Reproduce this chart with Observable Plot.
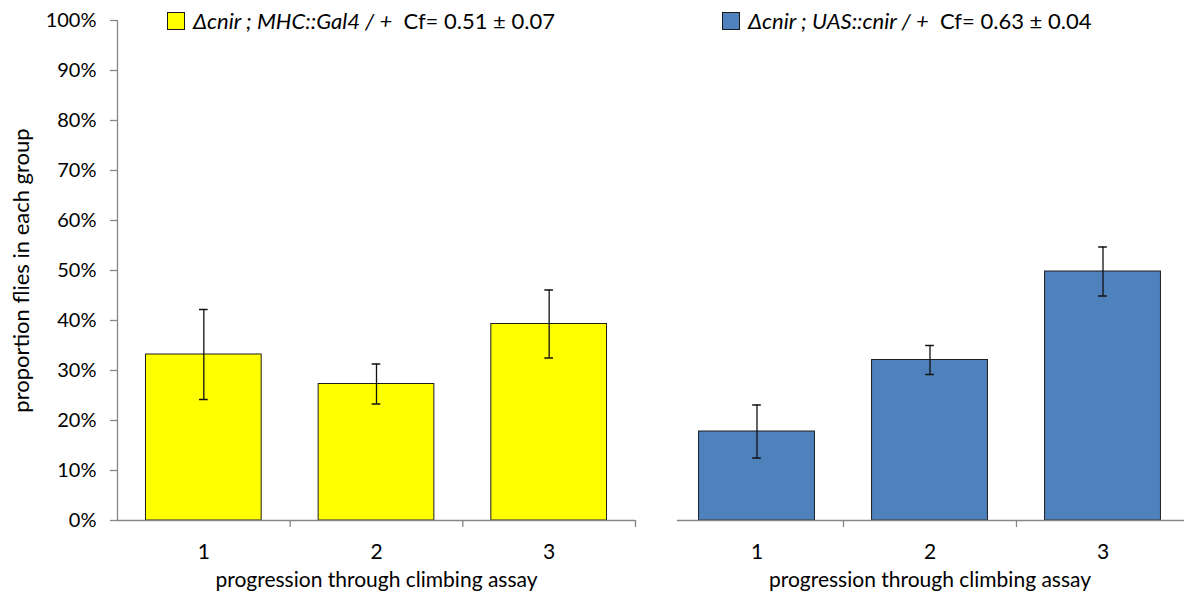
<!DOCTYPE html>
<html><head><meta charset="utf-8">
<script src="https://cdn.jsdelivr.net/npm/d3@7"></script>
<script src="https://cdn.jsdelivr.net/npm/@observablehq/plot@0.6"></script>
<style>
body{margin:0;width:1184px;height:596px;overflow:hidden;background:#fff;font-family:Lato, "Open Sans", sans-serif;}
#wrap{position:relative;width:1184px;height:596px;overflow:hidden;}
.panel{position:absolute;top:0;}
.legend{position:absolute;top:11px;font-size:22px;color:#000;display:flex;align-items:center;white-space:pre;line-height:20px;}
.sw{width:16px;height:16px;border:1.5px solid #1a1a1a;margin-right:8px;}
</style></head>
<body><div id="wrap"></div>
<script>
// ---- data ----
const categories = [1, 2, 3];
const leftValues = [33.2, 27.3, 39.3];
const leftErrors = [9.0, 4.0, 6.8];
const rightValues = [17.8, 32.1, 49.8];
const rightErrors = [5.3, 2.9, 4.9];
const yTicks = [0, 10, 20, 30, 40, 50, 60, 70, 80, 90, 100];
const boundaryTicks = [1.5, 2.5, 3.5];
const xLabel = "progression through climbing assay";
const yLabel = "proportion flies in each group";
const leftLegendItalic = "Δcnir ; MHC::Gal4 / +";
const leftLegendCf = "  Cf= 0.51 ± 0.07";
const rightLegendItalic = "Δcnir ; UAS::cnir / +";
const rightLegendCf = "  Cf= 0.63 ± 0.04";

const FONT = "Lato, 'Open Sans', sans-serif";
const GRAY = "#868686";

function panel({values, errors, fill, showY, width, marginLeft, marginRight, axisStart}) {
  const data = categories.map((c, i) => ({cat: c, v: values[i], e: errors[i]}));
  const half = 0.335, cap = 0.025;
  const marks = [
    Plot.rectY(data, {x1: d => d.cat - half, x2: d => d.cat + half, y: "v", fill, stroke: "#1f1f1f", strokeWidth: 1}),
    Plot.ruleX(data, {x: "cat", y1: d => d.v - d.e, y2: d => d.v + d.e, stroke: "#111", strokeWidth: 1.3}),
    Plot.ruleY(data, {x1: d => d.cat - cap, x2: d => d.cat + cap, y: d => d.v + d.e, stroke: "#111", strokeWidth: 1.5}),
    Plot.ruleY(data, {x1: d => d.cat - cap, x2: d => d.cat + cap, y: d => d.v - d.e, stroke: "#111", strokeWidth: 1.5}),
    Plot.ruleY([0], {x1: axisStart, x2: 3.5, stroke: GRAY, strokeWidth: 1.3}),
    Plot.axisX(boundaryTicks, {tickSize: 7, stroke: GRAY, strokeWidth: 1.3, tickFormat: () => "", label: null}),
    Plot.axisX(categories, {tickSize: 0, tickPadding: 24, fontSize: 21, fill: "#000", tickFormat: d => String(d),
      label: xLabel, labelAnchor: "center", labelArrow: "none", labelOffset: 66})
  ];
  if (showY) {
    marks.push(
      Plot.ruleX([0.5], {y1: 0, y2: 100, stroke: GRAY, strokeWidth: 1.3}),
      Plot.axisY(yTicks, {tickSize: 7, stroke: GRAY, strokeWidth: 1.3, tickFormat: () => "", label: null}),
      Plot.axisY(yTicks, {tickSize: 0, tickPadding: 21, fontSize: 20, fill: "#000", tickFormat: d => d + "%", label: null}),
      Plot.axisY([50], {tickSize: 0, fontSize: 22, fill: "#000", tickFormat: () => "",
        label: yLabel, labelAnchor: "center", labelArrow: "none", labelOffset: 104})
    );
  }
  return Plot.plot({
    width, height: 596,
    marginLeft, marginRight, marginTop: 20, marginBottom: 76,
    style: {fontFamily: FONT, fontSize: "22px", color: "#000", background: "transparent", overflow: "visible"},
    x: {type: "linear", domain: [0.5, 3.5]},
    y: {domain: [0, 100], axis: showY ? undefined : null},
    marks
  });
}

const wrap = document.getElementById("wrap");
const left = panel({values: leftValues, errors: leftErrors, fill: "#FFFF00", showY: true, width: 640, marginLeft: 117, marginRight: 5, axisStart: 0.5});
left.classList.add("panel"); left.style.left = "0px";
wrap.appendChild(left);
const right = panel({values: rightValues, errors: rightErrors, fill: "#4F81BD", showY: false, width: 549, marginLeft: 30, marginRight: 0, axisStart: 0.54});
right.classList.add("panel"); right.style.left = "640px";
wrap.appendChild(right);

function legend(x, color, ital, cf) {
  const d = document.createElement("div");
  d.className = "legend";
  d.style.left = x + "px";
  const sw = document.createElement("div");
  sw.className = "sw"; sw.style.background = color;
  const t1 = document.createElement("span"); t1.style.fontStyle = "italic"; t1.textContent = ital;
  const t2 = document.createElement("span"); t2.textContent = cf;
  d.append(sw, t1, t2);
  wrap.appendChild(d);
}
legend(167, "#FFFF00", leftLegendItalic, leftLegendCf);
legend(722, "#4F81BD", rightLegendItalic, rightLegendCf);
</script>
</body></html>
